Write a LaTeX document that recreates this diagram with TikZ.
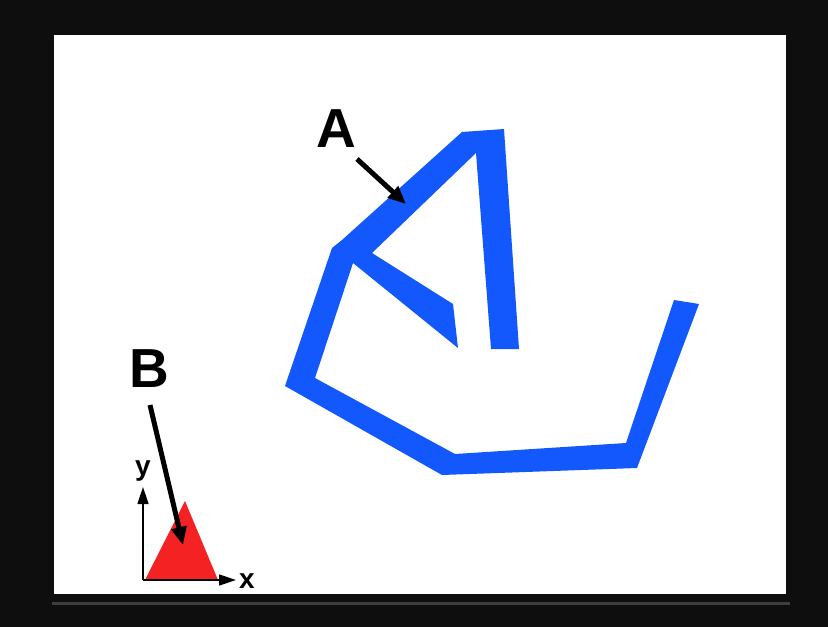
\documentclass[tikz,border=0pt]{standalone}
\usepackage{fontspec}
\setmainfont{Liberation Sans}
\usetikzlibrary{arrows.meta}
\definecolor{chainblue}{RGB}{18,88,252}
\definecolor{trired}{RGB}{244,34,34}
\definecolor{frame}{RGB}{14,14,14}
\definecolor{shadowgray}{RGB}{62,62,62}
\tikzset{
  lbl/.style={inner sep=0pt, font=\bfseries\fontsize{55}{55}\selectfont},
  axlbl/.style={inner sep=0pt, font=\bfseries\fontsize{28}{28}\selectfont},
  ptr/.style={line width=5pt, -{Triangle[length=18pt,width=15pt]}, black},
  axisline/.style={line width=1.5pt, black, -{Triangle[length=17pt,width=11pt]}}
}
\begin{document}
\begin{tikzpicture}[x=1pt,y=-1pt]
\useasboundingbox (0,0) rectangle (828,627);
\fill[frame] (0,0) rectangle (828,627);
\fill[shadowgray] (52,602) rectangle (790,604.5);
\fill[white] (54,35) rectangle (786,594);
% blue chain
\fill[chainblue] (674,300) -- (699,304) -- (637,468) -- (442,475) -- (285,386)
  -- (332,248) -- (342,240) -- (462,132) -- (504,129) -- (519,349) -- (491,349)
  -- (476,153) -- (372,253) -- (453,304) -- (458,348) -- (353,263) -- (315,378)
  -- (455,454) -- (626,443) -- cycle;
% red triangle
\fill[trired] (145,580) -- (185,501) -- (218,580) -- cycle;
% axes
\coordinate (O) at (143,580);
\coordinate (ytip) at (143,487);
\coordinate (xtip) at (236,580);
\draw[axisline] (O) -- (ytip);
\draw[axisline] (O) -- (xtip);
\node[axlbl] (ylab) at (143,471) {y};
\node[axlbl] (xlab) at (247,581) {x};
% labels and pointers
\node[lbl] (A) at (336,129) {A};
\node[lbl] (B) at (149,369) {B};
\coordinate (Astart) at (357,159);
\coordinate (Atip) at (406,204);
\coordinate (Bstart) at (150,405);
\coordinate (Btip) at (183,545);
\draw[ptr] (Astart) -- (Atip);
\draw[ptr] (Bstart) -- (Btip);
\end{tikzpicture}
\end{document}
